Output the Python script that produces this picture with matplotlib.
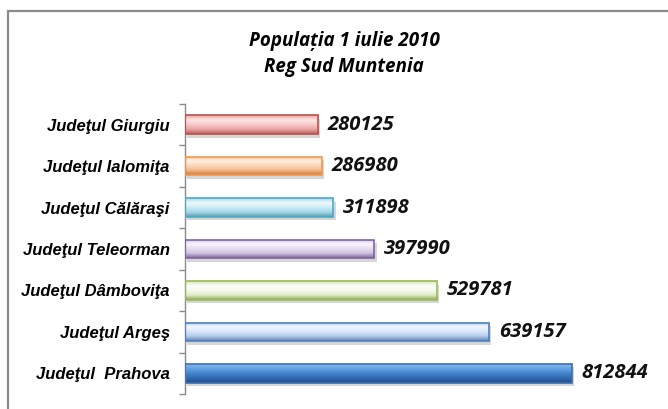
"""Populatia 1 iulie 2010, Reg Sud Muntenia - horizontal bar chart."""

import matplotlib
matplotlib.use("Agg")
import matplotlib.pyplot as plt
import numpy as np
from matplotlib.colors import LinearSegmentedColormap
from matplotlib.patches import Rectangle
from matplotlib import patheffects

# Data, top to bottom as in the reference
COUNTIES = [
    "Judeţul Giurgiu",
    "Judeţul Ialomiţa",
    "Judeţul Călăraşi",
    "Judeţul Teleorman",
    "Judeţul Dâmboviţa",
    "Judeţul Argeş",
    "Judeţul  Prahova",
]
POPULATION = [280125, 286980, 311898, 397990, 529781, 639157, 812844]

TITLE = "Populația 1 iulie 2010\nReg Sud Muntenia"

# (top..bottom gradient stops, edge colour) per bar
BAR_STYLES = [
    (["#e9a3a2", "#fde6e6", "#f7c9c8", "#eaa6a5", "#b66260"], "#c0504d"),
    (["#f9c79f", "#fff0e3", "#fbd9bd", "#f6b889", "#c47a3e"], "#f79646"),
    (["#a6dbea", "#eefafd", "#c9ecf5", "#a3d9e8", "#5f99aa"], "#4bacc6"),
    (["#cdbfe0", "#faf7fd", "#e6ddf1", "#cfc2e2", "#7d6a98"], "#8064a2"),
    (["#d6e6b8", "#ffffff", "#f4f9e9", "#dfecc6", "#8aa654"], "#9bbb59"),
    (["#b4cdec", "#f3f8fe", "#d6e5f7", "#b4ccec", "#5f84b4"], "#4f81bd"),
    (["#8abaee", "#62a0e3", "#4282cb", "#3169ae", "#1f4f8c"], "#3d6fae"),
]

FIG_W, FIG_H = 668, 409
VALUE_FONT = ["Open Sans", "DejaVu Sans"]


def main() -> None:
    fig = plt.figure(figsize=(FIG_W / 100, FIG_H / 100), dpi=100)
    fig.patch.set_facecolor("white")

    # Outer chart frame (continues past right and bottom edges)
    frame = Rectangle(
        (7.5 / FIG_W, -0.1), 1.2, 1.1 - 11.5 / FIG_H,
        transform=fig.transFigure, fill=False,
        edgecolor="#8a8a8a", linewidth=1.6,
    )
    fig.add_artist(frame)

    ax = fig.add_axes([185 / FIG_W, 1 - 394 / FIG_H, 476 / FIG_W, 290 / FIG_H])
    ax.set_facecolor("none")

    yy = np.arange(len(COUNTIES))
    bar_h = 0.45
    bars = ax.barh(yy, POPULATION, height=bar_h, color="none", zorder=2)

    shadow = [patheffects.SimplePatchShadow(offset=(1.5, -2.5), shadow_rgbFace="#9a9a9a", alpha=0.4),
              patheffects.Normal()]
    for bar, value, y, (stops, edge) in zip(bars, POPULATION, yy, BAR_STYLES):
        # shadow underneath
        under = ax.barh(y, value, height=bar_h, color=stops[2], zorder=1.5)[0]
        under.set_path_effects(shadow)
        cmap = LinearSegmentedColormap.from_list("g", stops)
        grad = np.linspace(0, 1, 64).reshape(-1, 1)
        im = ax.imshow(grad, cmap=cmap, aspect="auto", origin="upper",
                       extent=[0, value, y + bar_h / 2, y - bar_h / 2],
                       interpolation="bicubic", zorder=2)
        im.set_clip_path(bar)
        bar.set_edgecolor(edge)
        bar.set_linewidth(1.2)
        bar.set_zorder(3)
        ax.text(value + 20000, y, f"{value}", va="center", ha="left",
                fontsize=14.5, fontweight="bold", fontstyle="italic",
                family=VALUE_FONT, color="#111111")

    ax.set_xlim(0, 1_000_000)
    ax.set_ylim(len(COUNTIES) - 0.5, -0.5)

    ax.set_yticks(yy)
    ax.set_yticklabels(COUNTIES, fontsize=12, fontweight="bold", fontstyle="italic",
                       family=["Liberation Sans", "DejaVu Sans"])
    ax.tick_params(axis="y", which="major", length=0, pad=11)
    ax.set_yticks(np.arange(-0.5, len(COUNTIES)), minor=True)
    ax.tick_params(axis="y", which="minor", length=4, width=1, color="#8a8a8a", direction="out")
    ax.set_xticks([])

    for side in ("top", "right", "bottom"):
        ax.spines[side].set_visible(False)
    ax.spines["left"].set_color("#8a8a8a")
    ax.spines["left"].set_linewidth(1.0)

    fig.text(344 / FIG_W, 1 - 54 / FIG_H, TITLE, ha="center", va="center",
             fontsize=13.5, fontweight="bold", fontstyle="italic",
             family=VALUE_FONT, linespacing=1.35)

    fig.savefig("out.png", dpi=100)
    plt.close(fig)


if __name__ == "__main__":
    main()
